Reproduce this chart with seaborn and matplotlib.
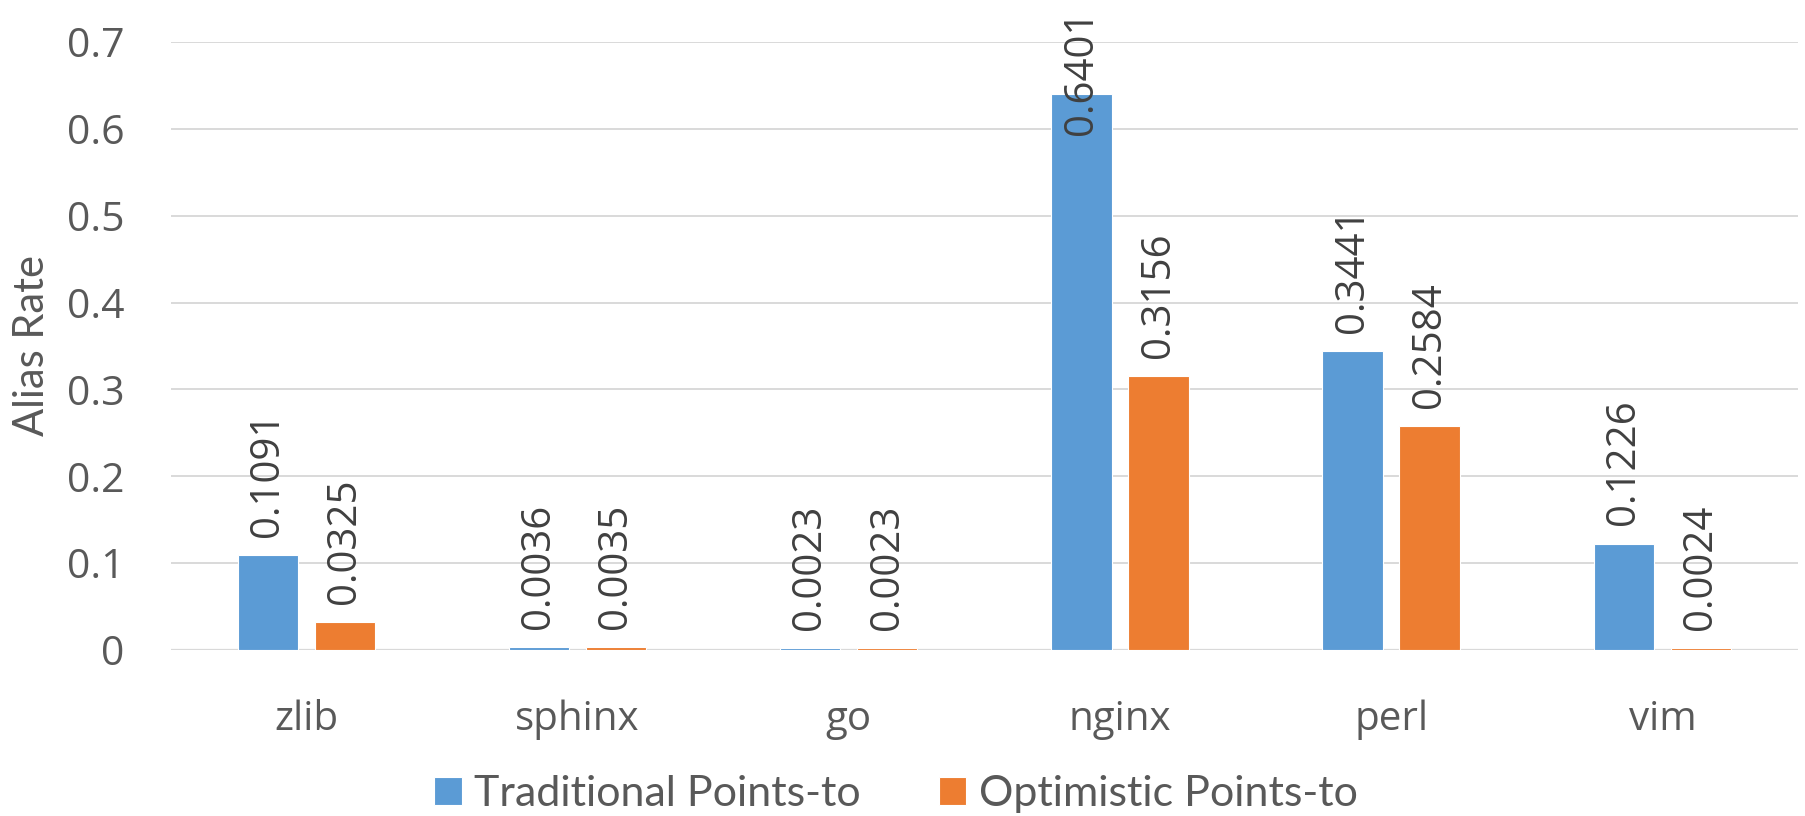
import matplotlib
matplotlib.use("Agg")
import matplotlib.pyplot as plt
import matplotlib.ticker as mticker
import pandas as pd
import seaborn as sns


# Chart data
PROGRAMS = ["zlib", "sphinx", "go", "nginx", "perl", "vim"]
TRADITIONAL = [0.1091, 0.0036, 0.0023, 0.6401, 0.3441, 0.1226]
OPTIMISTIC = [0.0325, 0.0035, 0.0023, 0.3156, 0.2584, 0.0024]
SERIES = ["Traditional Points-to", "Optimistic Points-to"]
Y_TICKS = [0.0, 0.1, 0.2, 0.3, 0.4, 0.5, 0.6, 0.7]

BLUE = "#5B9BD5"
ORANGE = "#ED7D31"
GRID = "#D9D9D9"
TEXT = "#595959"
LABEL = "#404040"

TICK_FONT = "Open Sans"
LEGEND_FONT = "Lato"

W, H = 1806, 816


def main() -> None:
    df = pd.DataFrame({
        "program": PROGRAMS * 2,
        "series": [SERIES[0]] * len(PROGRAMS) + [SERIES[1]] * len(PROGRAMS),
        "rate": TRADITIONAL + OPTIMISTIC,
    })

    fig = plt.figure(figsize=(W / 100, H / 100), dpi=100)
    ax = fig.add_axes([170.7 / W, 1 - 650 / H, (1798 - 170.7) / W, (650 - 42) / H])

    sns.barplot(
        data=df, x="program", y="rate", hue="series",
        palette=[BLUE, ORANGE], saturation=1,
        width=0.568, gap=0.215,
        edgecolor="white", linewidth=0.8,
        ax=ax,
    )

    ax.set_ylim(0, 0.7)
    ax.set_yticks(Y_TICKS)
    ax.yaxis.set_major_formatter(mticker.FuncFormatter(lambda v, _: "0" if v == 0 else f"{v:.1f}"))
    ax.yaxis.grid(True, color=GRID, linewidth=1.4)
    ax.set_axisbelow(True)
    for side in ["top", "right", "left", "bottom"]:
        ax.spines[side].set_visible(False)
    ax.axhline(0, color=GRID, linewidth=1.6, zorder=0.5)

    ax.tick_params(axis="x", length=0, pad=36, labelsize=29, labelcolor=TEXT)
    ax.tick_params(axis="y", length=0, pad=33, labelsize=29.5, labelcolor=TEXT)
    for lab in ax.get_xticklabels() + ax.get_yticklabels():
        lab.set_fontfamily(TICK_FONT)

    ax.set_xlabel("")
    ax.set_ylabel("Alias Rate", fontsize=30, color=TEXT, family=LEGEND_FONT)
    ax.yaxis.set_label_coords((51 - 170.7) / (1798 - 170.7), 0.5)

    # Value labels, rotated, above each bar (pushed inside when they would overflow the top)
    top = 0.7
    for container, vals in zip(ax.containers, [TRADITIONAL, OPTIMISTIC]):
        for bar, v in zip(container, vals):
            x = bar.get_x() + bar.get_width() / 2
            if v + 0.17 > top + 0.037:
                ax.annotate(f"{v:.4f}", xy=(x, top), xytext=(0, 23), textcoords="offset points",
                            rotation=90, ha="center", va="top", fontsize=29,
                            family=TICK_FONT, color=LABEL, annotation_clip=False)
            else:
                ax.annotate(f"{v:.4f}", xy=(x, v), xytext=(0, 13), textcoords="offset points",
                            rotation=90, ha="center", va="bottom", fontsize=29,
                            family=TICK_FONT, color=LABEL, annotation_clip=False)

    handles, labels = ax.get_legend_handles_labels()
    ax.get_legend().remove()
    fig.legend(
        handles, labels, loc="center", bbox_to_anchor=(896 / W, 1 - 794 / H),
        ncol=2, frameon=False, prop={"family": LEGEND_FONT, "size": 31},
        handlelength=0.63, handleheight=0.63, handletextpad=0.3,
        columnspacing=1.8, labelcolor=TEXT,
    )

    fig.savefig("out.png", dpi=100)
    plt.close(fig)


if __name__ == "__main__":
    main()
